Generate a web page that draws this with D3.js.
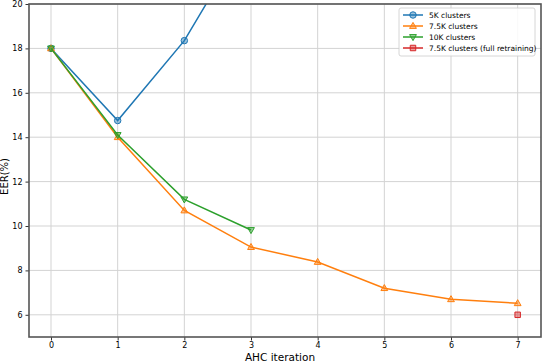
<!DOCTYPE html>
<html lang="en">
<head>
<meta charset="utf-8">
<title>EER vs AHC iteration</title>
<script src="https://d3js.org/d3.v7.min.js"></script>
<style>
    body { margin: 0; background: #fff; }
    text { font-family: "DejaVu Sans", sans-serif; fill: #000; }
    .grid line { stroke: #d3d3d3; stroke-width: 1; }
</style>
</head>
<body>
<script>
    var width = 542,
        height = 362;

    // data
    var iterations = [0, 1, 2, 3, 4, 5, 6, 7];
    var xTicks = [0, 1, 2, 3, 4, 5, 6, 7];
    var yTicks = [6, 8, 10, 12, 14, 16, 18, 20];

    var eer5k = [18.0, 14.75, 18.35, 23.4];
    var eer75k = [18.0, 14.0, 10.7, 9.05, 8.38, 7.2, 6.7, 6.52];
    var eer10k = [18.0, 14.1, 11.2, 9.82];
    var eer75kFull = [[7, 6.0]];

    var series = [
        {name: "5K clusters", color: "#1f77b4", marker: "circle", pts: eer5k.map(function(v, i) { return [iterations[i], v]; })},
        {name: "7.5K clusters", color: "#ff7f0e", marker: "up", pts: eer75k.map(function(v, i) { return [iterations[i], v]; })},
        {name: "10K clusters", color: "#2ca02c", marker: "down", pts: eer10k.map(function(v, i) { return [iterations[i], v]; })},
        {name: "7.5K clusters (full retraining)", color: "#d62728", marker: "square", pts: eer75kFull}
    ];

    var margin = {top: 4, right: 1, bottom: 25, left: 29};
    var pw = width - margin.left - margin.right,
        ph = height - margin.top - margin.bottom;

    var x = d3.scaleLinear().domain([-0.33, 7.35]).range([0, pw]);
    var y = d3.scaleLinear().domain([5, 20]).range([ph, 0]);

    var svg = d3.select("body").append("svg")
        .attr("width", width)
        .attr("height", height);

    var g = svg.append("g").attr("transform", "translate(" + margin.left + "," + margin.top + ")");

    //grid
    var grid = g.append("g").attr("class", "grid");
    grid.selectAll("line.v").data(xTicks).enter().append("line")
        .attr("x1", function(d) { return x(d); }).attr("x2", function(d) { return x(d); })
        .attr("y1", 0).attr("y2", ph);
    grid.selectAll("line.h").data(yTicks).enter().append("line")
        .attr("y1", function(d) { return y(d); }).attr("y2", function(d) { return y(d); })
        .attr("x1", 0).attr("x2", pw);

    //axes
    var xAxis = g.append("g").attr("transform", "translate(0," + ph + ")")
        .call(d3.axisBottom(x).tickValues(xTicks).tickSize(3.5).tickPadding(2));
    var yAxis = g.append("g")
        .call(d3.axisLeft(y).tickValues(yTicks).tickSize(3.5).tickPadding(3));
    [xAxis, yAxis].forEach(function(a) {
        a.select(".domain").remove();
        a.selectAll("text").style("font-size", "8px").style("font-family", "DejaVu Sans");
        a.selectAll("line").attr("stroke", "#000").attr("stroke-width", 0.8);
    });

    // clip so the 5K line runs off the top
    svg.append("clipPath").attr("id", "plotclip").append("rect")
        .attr("width", pw).attr("height", ph);

    var line = d3.line().x(function(d) { return x(d[0]); }).y(function(d) { return y(d[1]); });

    function markerPath(type, s) {
        if (type === "circle") return d3.symbol().type(d3.symbolCircle).size(s * 1.1)();
        if (type === "square") return d3.symbol().type(d3.symbolSquare).size(s)();
        if (type === "up") return "M0,-3.6L3.4,2.4L-3.4,2.4Z";
        return "M0,3.6L3.4,-2.4L-3.4,-2.4Z";
    }

    var plot = g.append("g").attr("clip-path", "url(#plotclip)");
    series.forEach(function(s) {
        plot.append("path").datum(s.pts)
            .attr("d", line)
            .attr("fill", "none")
            .attr("stroke", s.color)
            .attr("stroke-width", 1.5);
        plot.selectAll(null).data(s.pts).enter().append("path")
            .attr("transform", function(d) { return "translate(" + x(d[0]) + "," + y(d[1]) + ")"; })
            .attr("d", markerPath(s.marker, 30))
            .attr("fill", s.color)
            .attr("fill-opacity", 0.45)
            .attr("stroke", s.color)
            .attr("stroke-width", 1);
    });

    //frame
    g.append("rect")
        .attr("width", pw).attr("height", ph)
        .attr("fill", "none")
        .attr("stroke", "#555")
        .attr("stroke-width", 1.6);

    //labels
    svg.append("text")
        .attr("x", margin.left + pw / 2 - 5)
        .attr("y", height - 1.5)
        .attr("text-anchor", "middle")
        .style("font-size", "10.5px")
        .text("AHC iteration");
    svg.append("text")
        .attr("transform", "translate(8," + (margin.top + ph / 2 + 6) + ") rotate(-90)")
        .attr("text-anchor", "middle")
        .style("font-size", "10px")
        .text("EER(%)");

    //legend
    var lg = svg.append("g").attr("transform", "translate(399,8)");
    lg.append("rect")
        .attr("width", 136).attr("height", 48)
        .attr("rx", 2)
        .attr("fill", "#fff").attr("fill-opacity", 0.85)
        .attr("stroke", "#ccc").attr("stroke-width", 0.8);
    series.forEach(function(s, i) {
        var row = lg.append("g").attr("transform", "translate(4," + (7 + i * 11) + ")");
        row.append("line").attr("x1", 0).attr("x2", 20)
            .attr("stroke", s.color).attr("stroke-width", 1.5);
        row.append("path").attr("transform", "translate(10,0)")
            .attr("d", markerPath(s.marker, 30))
            .attr("fill", s.color).attr("fill-opacity", 0.45)
            .attr("stroke", s.color).attr("stroke-width", 1);
        row.append("text").attr("x", 26).attr("y", 3)
            .style("font-size", "7.5px")
            .text(s.name);
    });
</script>
</body>
</html>
